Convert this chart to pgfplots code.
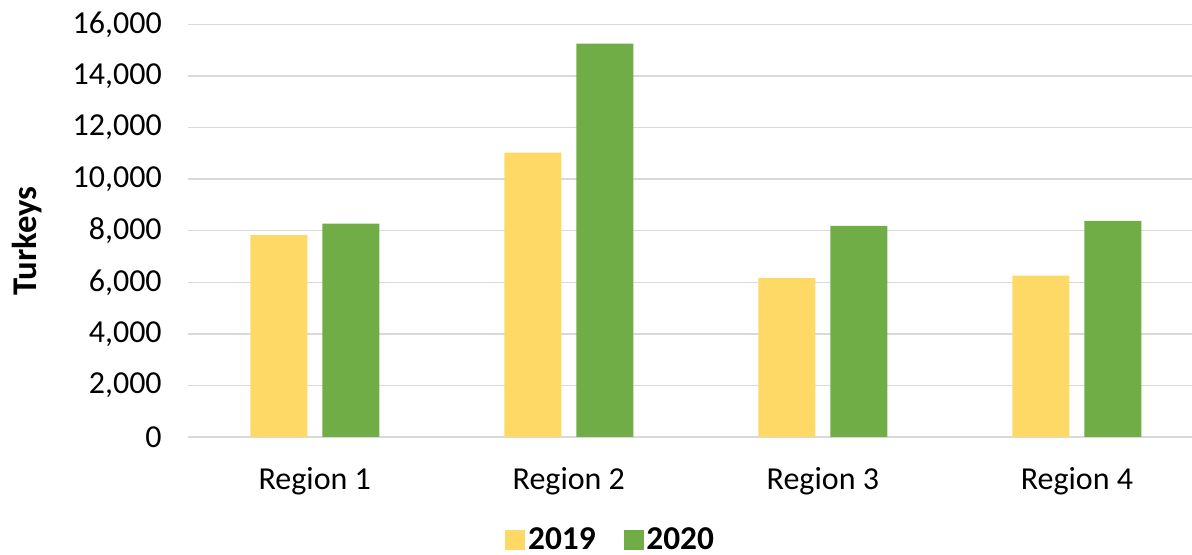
\documentclass[border=0pt]{standalone}
\usepackage{fontspec}
\setmainfont{Carlito}
\usepackage{pgfplots}
\pgfplotsset{compat=1.18}
\definecolor{yel}{HTML}{FFD966}
\definecolor{grn}{HTML}{70AD47}
\definecolor{gridc}{HTML}{D9D9D9}
\begin{document}
\begin{tikzpicture}
\useasboundingbox (-140.8pt,-87.8pt) rectangle (753.2pt,327.7pt);
\begin{axis}[
  at={(0pt,0pt)}, anchor=south west,
  scale only axis,
  width=753.2pt, height=309.3pt,
  xmin=-0.5, xmax=3.453,
  ymin=0, ymax=16000,
  ytick={0,2000,...,16000},
  xtick={0,1,2,3},
  xticklabels={Region 1,Region 2,Region 3,Region 4},
  major tick length=0pt,
  axis line style={draw=none},
  ymajorgrids,
  major grid style={color=gridc, line width=1.1pt},
  scaled y ticks=false,
  /pgf/number format/.cd, 1000 sep={,}, assume math mode=true,
  /pgfplots/.cd,
  tick label style={font=\fontsize{24}{24}\selectfont},
  yticklabel style={xshift=-16pt},
  xticklabel style={yshift=-19.5pt},
  legend style={at={(0.4215,-0.25)}, anchor=center, draw=none, legend columns=2,
    font=\fontsize{25}{25}\selectfont\bfseries, inner sep=1pt,
    /tikz/every even column/.append style={column sep=19pt}},
  ybar, bar width=0.2244,
]
\addplot[fill=yel, draw=none, bar shift=-0.1417,
  legend image code/.code={\fill[yel] (0pt,-7.5pt) rectangle (15pt,7.5pt);}]
  coordinates {(0,7830) (1,11030) (2,6160) (3,6260)};
\addlegendentry{2019}
\addplot[fill=grn, draw=none, bar shift=0.1417,
  legend image code/.code={\fill[grn] (0pt,-7.5pt) rectangle (15pt,7.5pt);}]
  coordinates {(0,8280) (1,15260) (2,8190) (3,8380)};
\addlegendentry{2020}
\end{axis}
\node[rotate=90, font=\fontsize{26}{26}\selectfont\bfseries] at (-120.5pt,146.9pt) {Turkeys};
\end{tikzpicture}
\end{document}
